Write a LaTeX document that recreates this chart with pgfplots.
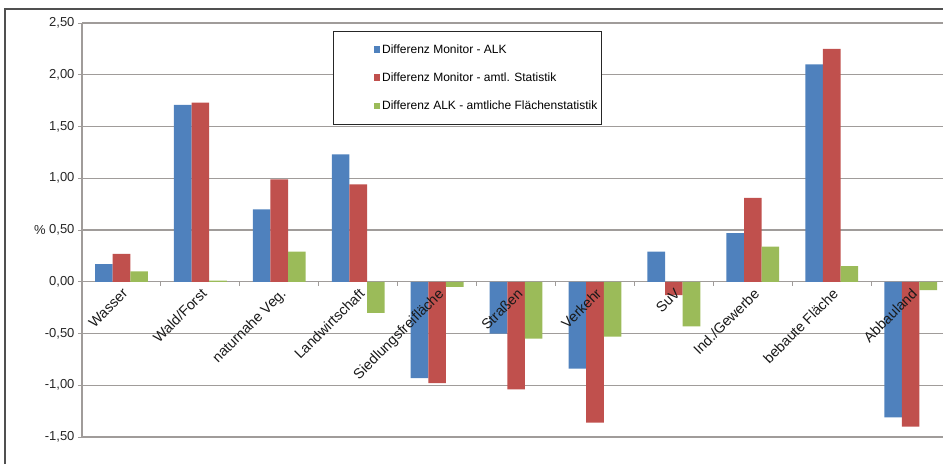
\documentclass[border=0pt]{standalone}
\usepackage{fontspec}
\setmainfont{Liberation Sans}
\usepackage{pgfplots}
\pgfplotsset{compat=1.18}
\pgfplotsset{
  layers/mylayers/.define layer set={
    axis background, axis grid, axis ticks, axis lines, main, axis tick labels, axis descriptions, axis foreground
  }{/pgfplots/layers/standard},
}
\definecolor{cblue}{HTML}{4F81BD}
\definecolor{cred}{HTML}{C0504D}
\definecolor{cgreen}{HTML}{9BBB59}
\definecolor{gridc}{HTML}{A09C9A}
\definecolor{framec}{HTML}{505050}
\newcommand\tf{\fontsize{13}{15}\selectfont}
\newcommand\cf{\fontsize{14.3}{16}\selectfont}
\begin{document}
\begin{tikzpicture}[x=1pt,y=1pt]
\draw[framec, line width=1.6pt] (5,0) -- (5,455) -- (943,455);
\node[font=\tf, text=black!85] at (40,234) {\%};
\begin{axis}[
  set layers=mylayers,
  at={(82pt,27pt)}, anchor=south west,
  scale only axis, width=861pt, height=414pt,
  ybar=0pt, bar width=17.6pt,
  xmin=-0.5, xmax=10.41, ymin=-1.5, ymax=2.5,
  axis x line*=middle, axis y line*=left,
  axis line style={gridc, line width=1.2pt},
  xtick={0,...,10},
  xticklabels={Wasser, Wald/Forst, naturnahe Veg., Landwirtschaft, Siedlungsfreifläche, Straßen, Verkehr, SuV, Ind./Gewerbe, bebaute Fläche, Abbauland},
  major x tick style={draw=none},
  minor xtick={-0.5,0.5,...,9.5},
  minor tick style={gridc, line width=1pt},
  minor tick length=4pt,
  ytick={-1.5,-1,...,2.5},
  yticklabels={{-1,50},{-1,00},{-0,50},{0,00},{0,50},{1,00},{1,50},{2,00},{2,50}},
  ymajorgrids, grid style={gridc, line width=1.2pt},
  major y tick style={gridc, line width=1pt}, major tick length=4pt,
  tick align=outside,
  xticklabel style={rotate=45, anchor=north east, font=\cf, text=black!90, inner sep=1pt},
  yticklabel style={font=\tf, text=black!85},
  legend style={at={(0.2915,0.9807)}, anchor=north west, draw=black!85, line width=1.3pt,
    font=\fontsize{12}{14}\selectfont, row sep=14pt, inner xsep=2pt, inner ysep=11pt},
  legend cell align=left,
  legend image code/.code={\path[draw=none,fill=none] (0pt,0pt) rectangle (38pt,0.1pt); \fill[#1, draw=none] (38pt,-3pt) rectangle (44.5pt,3.5pt);},
]
\addplot[fill=cblue, draw=none] coordinates {(0,0.17) (1,1.71) (2,0.70) (3,1.23) (4,-0.93) (5,-0.50) (6,-0.84) (7,0.29) (8,0.47) (9,2.10) (10,-1.31)};
\addplot[fill=cred, draw=none] coordinates {(0,0.27) (1,1.73) (2,0.99) (3,0.94) (4,-0.98) (5,-1.04) (6,-1.36) (7,-0.13) (8,0.81) (9,2.25) (10,-1.40)};
\addplot[fill=cgreen, draw=none] coordinates {(0,0.10) (1,0.01) (2,0.29) (3,-0.30) (4,-0.05) (5,-0.55) (6,-0.53) (7,-0.43) (8,0.34) (9,0.15) (10,-0.08)};
\legend{Differenz Monitor - ALK, Differenz Monitor - amtl. Statistik, Differenz ALK - amtliche Flächenstatistik}
\end{axis}
\pgfresetboundingbox
\path[use as bounding box] (0,0) rectangle (943,464);
\end{tikzpicture}
\end{document}
